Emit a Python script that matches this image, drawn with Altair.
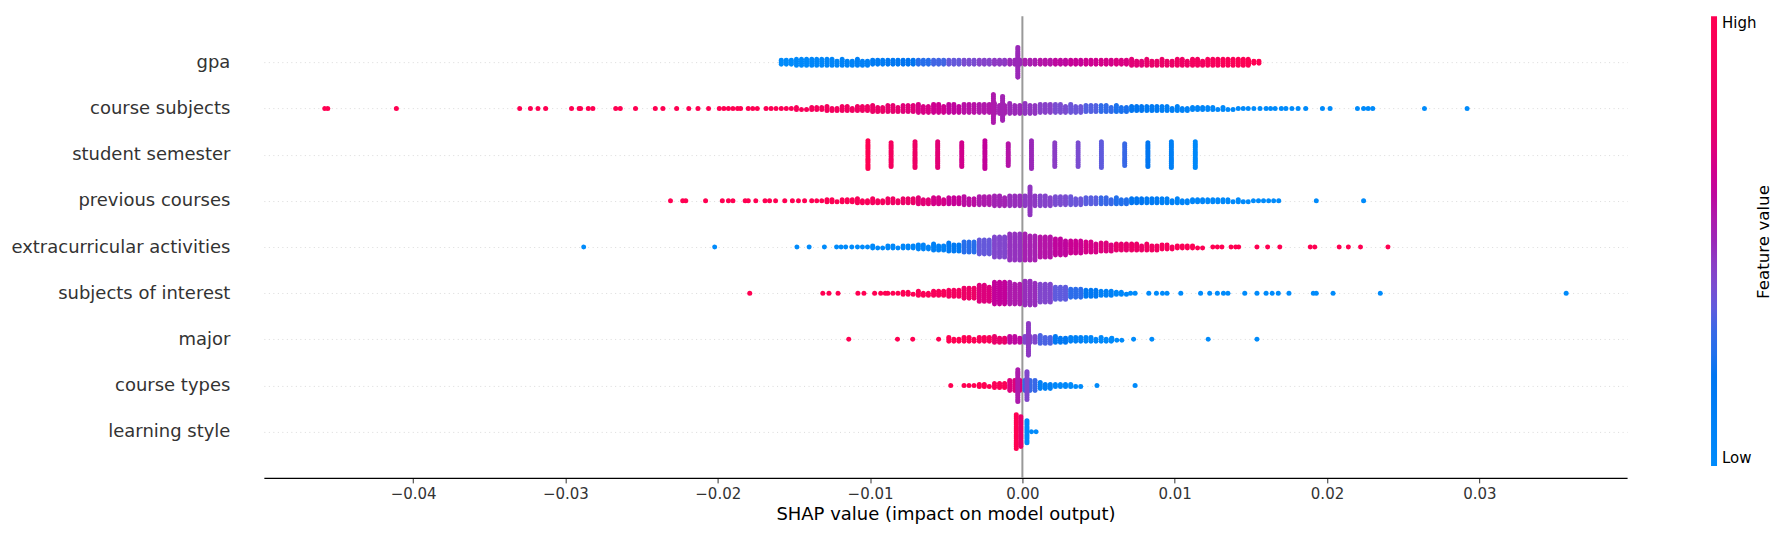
import altair as alt
import pandas as pd

# feature names, top row first
features = ["gpa", "course subjects", "student semester", "previous courses",
            "extracurricular activities", "subjects of interest", "major",
            "course types", "learning style"]

# swarm bins: SHAP value, number of dots, feature value (0 low .. 1 high)
gpa_x = [-0.0155, -0.0145, -0.0135, -0.0125, -0.0115, -0.0105, -0.0095, -0.0085,
         -0.0075, -0.0065, -0.0055, -0.0045, -0.0035, -0.0025, -0.0015, -0.0005,
         0.0005, 0.0015, 0.0025, 0.0035, 0.0045, 0.0055, 0.0065, 0.0075,
         0.0085, 0.0095, 0.0105, 0.0115, 0.0125, 0.0135, 0.0145, 0.0152]
gpa_n = [9, 12, 12, 11, 10, 10, 9, 9, 9, 9, 9, 9, 9, 9, 9, 9,
         9, 9, 9, 9, 9, 9, 9, 10, 10, 10, 11, 11, 12, 12, 12, 6]
gpa_v = [0.0, 0.02, 0.04, 0.06, 0.08, 0.11, 0.14, 0.18, 0.22, 0.26, 0.31, 0.36, 0.4, 0.43, 0.46, 0.5,
         0.54, 0.57, 0.6, 0.63, 0.65, 0.67, 0.69, 0.72, 0.75, 0.78, 0.82, 0.87, 0.91, 0.95, 0.98, 1.0]

cs_x = [-0.0458, -0.0456, -0.0411, -0.0330, -0.0323, -0.0318, -0.0313, -0.0296, -0.0291,
        -0.0290, -0.0285, -0.0282, -0.0267, -0.0264, -0.0254, -0.0241, -0.0236, -0.0227,
        -0.0219, -0.0213, -0.0206, -0.0199, -0.0196, -0.0193, -0.0190, -0.0187, -0.0185,
        -0.0180, -0.0177, -0.0174,
        -0.0165, -0.0155, -0.0145, -0.0135, -0.0125, -0.0115, -0.0105, -0.0095, -0.0085,
        -0.0075, -0.0065, -0.0055, -0.0045, -0.0035, -0.0025, -0.0015, -0.0005,
        0.0005, 0.0015, 0.0025, 0.0035, 0.0045, 0.0055, 0.0065, 0.0075, 0.0085, 0.0095,
        0.0105, 0.0115, 0.0125, 0.0135, 0.0145,
        0.0152, 0.0156, 0.0160, 0.0163, 0.0166, 0.0170, 0.0173, 0.0177, 0.0181, 0.0186,
        0.0197, 0.0202, 0.0220, 0.0224, 0.0227, 0.0230, 0.0264, 0.0292]
cs_n = [1] * 30 + [3, 3, 4, 6, 7, 8, 9, 10, 11, 12, 13, 14, 14, 15, 15, 16, 16,
                   16, 15, 14, 13, 12, 11, 10, 9, 9, 8, 7, 6, 5, 4, 3] + [1] * 18
cs_v = [1.0] * 30 + [0.98, 0.96, 0.93, 0.9, 0.88, 0.85, 0.83, 0.79, 0.74, 0.71, 0.68, 0.65,
                     0.61, 0.58, 0.56, 0.53, 0.5, 0.47, 0.44, 0.4, 0.37, 0.33, 0.28, 0.24,
                     0.2, 0.16, 0.12, 0.09, 0.06, 0.04, 0.02, 0.01] + [0.0] * 18

pc_x = [-0.0231, -0.0223, -0.0221, -0.0208, -0.0197, -0.0193, -0.0190, -0.0182, -0.0180,
        -0.0175, -0.0169, -0.0166, -0.0162, -0.0156, -0.0151, -0.0147, -0.0143,
        -0.0135, -0.0125, -0.0115, -0.0105, -0.0095, -0.0085, -0.0075, -0.0065, -0.0055,
        -0.0045, -0.0035, -0.0025, -0.0015, -0.0005, 0.0005, 0.0015, 0.0025, 0.0035,
        0.0045, 0.0055, 0.0065, 0.0075, 0.0085, 0.0095, 0.0105, 0.0115, 0.0125, 0.0135,
        0.0145, 0.0155, 0.0165,
        0.0193, 0.0224]
pc_n = [1] * 17 + [3, 5, 6, 7, 7, 8, 9, 10, 11, 12, 13, 15, 17, 18,
                   18, 17, 15, 13, 12, 11, 10, 9, 9, 8, 7, 6, 6, 5, 4, 3, 3] + [1] * 2
pc_v = [1.0] * 17 + [1.0, 0.98, 0.96, 0.93, 0.89, 0.84, 0.78, 0.72, 0.67, 0.63, 0.59, 0.55,
                     0.52, 0.49, 0.46, 0.43, 0.4, 0.37, 0.34, 0.3, 0.25, 0.2, 0.15, 0.1,
                     0.07, 0.05, 0.03, 0.02, 0.01, 0.0, 0.0] + [0.0] * 2

ea_x = [-0.0288, -0.0202, -0.0148, -0.0140, -0.0130, -0.0122, -0.0119, -0.0116, -0.0112,
        -0.0105, -0.0095, -0.0085, -0.0075, -0.0065, -0.0055, -0.0045, -0.0035, -0.0025,
        -0.0015, -0.0005, 0.0005, 0.0015, 0.0025, 0.0035, 0.0045, 0.0055, 0.0065, 0.0075,
        0.0085, 0.0095, 0.0105, 0.0115,
        0.0125, 0.0128, 0.0131, 0.0137, 0.0140, 0.0142, 0.0154, 0.0161, 0.0169, 0.0189,
        0.0192, 0.0208, 0.0214, 0.0222, 0.0240]
ea_n = [1] * 9 + [3, 4, 5, 6, 8, 10, 13, 18, 24, 33, 42, 40, 33, 26, 21, 17, 14, 12, 11,
                  10, 8, 6, 4] + [1] * 15
ea_v = [0.0] * 9 + [0.0, 0.02, 0.03, 0.05, 0.07, 0.1, 0.16, 0.26, 0.36, 0.42, 0.48, 0.53,
                    0.57, 0.61, 0.64, 0.67, 0.7, 0.74, 0.79, 0.84, 0.9, 0.95, 0.98] + [1.0] * 15

si_x = [-0.0179, -0.0131, -0.0127, -0.0121, -0.0108, -0.0104, -0.0097, -0.0093, -0.0090,
        -0.0085, -0.0075, -0.0065, -0.0055, -0.0045, -0.0035, -0.0025, -0.0015, -0.0005,
        0.0005, 0.0015, 0.0025, 0.0035, 0.0045, 0.0055, 0.0065,
        0.0071, 0.0074, 0.0083, 0.0088, 0.0092, 0.0095, 0.0104, 0.0117, 0.0123, 0.0128,
        0.0132, 0.0135, 0.0146, 0.0154, 0.0160, 0.0164, 0.0168, 0.0175, 0.0191, 0.0193,
        0.0204, 0.0235, 0.0357]
si_n = [1] * 9 + [3, 5, 7, 9, 12, 18, 26, 36, 34, 38, 30, 21, 15, 12, 9, 5] + [1] * 23
si_v = [1.0] * 9 + [1.0, 0.98, 0.95, 0.92, 0.87, 0.8, 0.7, 0.62, 0.55, 0.49, 0.42, 0.35,
                    0.27, 0.18, 0.1, 0.04] + [0.0] * 23

major_x = [-0.0114, -0.0082, -0.0072, -0.0055,
           -0.0045, -0.0035, -0.0025, -0.0015, -0.0005, 0.0005, 0.0015, 0.0025, 0.0035,
           0.0045, 0.0055, 0.0062,
           0.0073, 0.0085, 0.0122, 0.0154]
major_n = [1] * 4 + [7, 8, 9, 10, 11, 12, 13, 10, 9, 8, 7, 4] + [1] * 4
major_v = [1.0] * 4 + [1.0, 0.98, 0.93, 0.75, 0.6, 0.42, 0.32, 0.18, 0.1, 0.05, 0.02, 0.0] + [0.0] * 4

ct_x = [-0.0047, -0.0035, -0.0025, -0.0015, -0.0005, 0.0005, 0.0015, 0.0025, 0.0035,
        0.0049, 0.0074]
ct_n = [1, 3, 5, 9, 18, 18, 10, 6, 4, 1, 1]
ct_v = [1.0, 1.0, 1.0, 0.95, 0.7, 0.3, 0.1, 0.03, 0.0, 0.0, 0.0]

ls_x = [0.0006, 0.0009]
ls_n = [1, 1]
ls_v = [0.0, 0.0]

# narrow vertical stacks (one dot wide)
spike_feature = ["gpa", "course subjects", "course subjects"] + ["student semester"] * 15 + \
                ["previous courses", "major", "course types", "course types",
                 "learning style", "learning style", "learning style"]
spike_x = [-0.0003, -0.0019, -0.0013,
           -0.01014, -0.00862, -0.00705, -0.00556, -0.00398, -0.00246, -0.00093, 0.0006,
           0.00213, 0.00366, 0.00519, 0.00672, 0.00824, 0.00978, 0.01135,
           0.0005, 0.0004, -0.0003, 0.0003, -0.0004, -0.0001, 0.0003]
spike_n = [16, 15, 13,
           15, 13, 14, 14, 13, 15, 12, 15, 13, 13, 14, 12, 13, 14, 14,
           15, 17, 17, 15, 18, 16, 12]
spike_v = [0.5, 0.55, 0.52,
           1.0, 0.88, 0.8, 0.72, 0.66, 0.62, 0.57, 0.5, 0.45, 0.4, 0.35, 0.3, 0.2, 0.12, 0.02,
           0.47, 0.46, 0.55, 0.42, 1.0, 0.75, 0.0]

x_ticks = [-0.04, -0.03, -0.02, -0.01, 0.0, 0.01, 0.02, 0.03]

color_stops = [0.0, 0.22, 0.3, 0.4, 0.5, 0.62, 0.75, 1.0]
color_range = ["#008bfb", "#0074f0", "#3868e6", "#7a4cd0", "#9a28b8", "#c2009a", "#e8006a", "#ff0052"]

COL_STEP = 0.00033   # spacing of dot columns inside a bin (SHAP units)
ROW_STEP = 0.043     # vertical spacing of stacked dots (row units)

bins = {
    "gpa": (gpa_x, gpa_n, gpa_v),
    "course subjects": (cs_x, cs_n, cs_v),
    "previous courses": (pc_x, pc_n, pc_v),
    "extracurricular activities": (ea_x, ea_n, ea_v),
    "subjects of interest": (si_x, si_n, si_v),
    "major": (major_x, major_n, major_v),
    "course types": (ct_x, ct_n, ct_v),
    "learning style": (ls_x, ls_n, ls_v),
}

records = []


def stack(feature, x, n, v, cols):
    base = len(features) - 1 - features.index(feature)
    w = min(n, cols)
    levels = -(-n // w)
    for k in range(n):
        dx = (k % w - (w - 1) / 2) * COL_STEP
        dy = (k // w - (levels - 1) / 2) * ROW_STEP
        records.append({"feature": feature, "shap": x + dx, "pos": base + dy, "value": v})


for name, (xs, ns, vs) in bins.items():
    for x, n, v in zip(xs, ns, vs):
        stack(name, x, n, v, 3)
for f, x, n, v in zip(spike_feature, spike_x, spike_n, spike_v):
    stack(f, x, n, v, 1)

df = pd.DataFrame(records)

label_expr = "[" + ", ".join(f"'{f}'" for f in reversed(features)) + "][datum.value]"

zero_line = alt.Chart(pd.DataFrame({"shap": [0.0]})).mark_rule(
    color="#999999", strokeWidth=2
).encode(x="shap:Q")

dots = alt.Chart(df).mark_circle(size=25, opacity=1).encode(
    x=alt.X("shap:Q",
            scale=alt.Scale(domain=[-0.0498, 0.0397], nice=False, zero=False),
            axis=alt.Axis(values=x_ticks, format=".2f", grid=False,
                          title="SHAP value (impact on model output)",
                          labelFontSize=15, labelColor="#333333", tickColor="#333333",
                          domainColor="black", domainWidth=1.1, tickSize=5, labelPadding=4,
                          titleFontSize=18, titleFontWeight="normal", titleColor="black",
                          titlePadding=4)),
    y=alt.Y("pos:Q",
            scale=alt.Scale(domain=[-1, 9], nice=False, zero=False),
            axis=alt.Axis(values=list(range(len(features))), labelExpr=label_expr,
                          title="", domain=False, ticks=False, grid=True,
                          gridColor="#cccccc", gridDash=[1, 3.5], gridWidth=0.7,
                          labelFontSize=18, labelColor="#333333", labelPadding=34,
                          labelLimit=400)),
    color=alt.Color("value:Q",
                    scale=alt.Scale(domain=color_stops, range=color_range),
                    legend=alt.Legend(orient="none", legendX=1448, legendY=0,
                                      direction="vertical", gradientLength=450,
                                      gradientThickness=6, gradientStrokeWidth=0,
                                      values=[0, 1],
                                      labelExpr="datum.value == 1 ? 'High' : 'Low'",
                                      labelFontSize=15, labelColor="black", labelOffset=5,
                                      labelBaseline="middle", title="", padding=0)),
)

# colour bar caption, rotated like matplotlib's colorbar label
caption = alt.Chart(pd.DataFrame({"t": ["Feature value"]})).mark_text(
    angle=270, fontSize=16.7, color="black", align="center", baseline="middle"
).encode(text="t:N", x=alt.value(1501), y=alt.value(226))

chart = alt.layer(zero_line, dots, caption).properties(
    width=1364,
    height=462,
    padding={"left": 256, "top": 8, "right": 150, "bottom": 50},
    autosize=alt.AutoSizeParams(type="none"),
).configure(font="DejaVu Sans").configure_view(strokeWidth=0)

chart.save("out.html", embed_options={"renderer": "svg", "actions": False})
